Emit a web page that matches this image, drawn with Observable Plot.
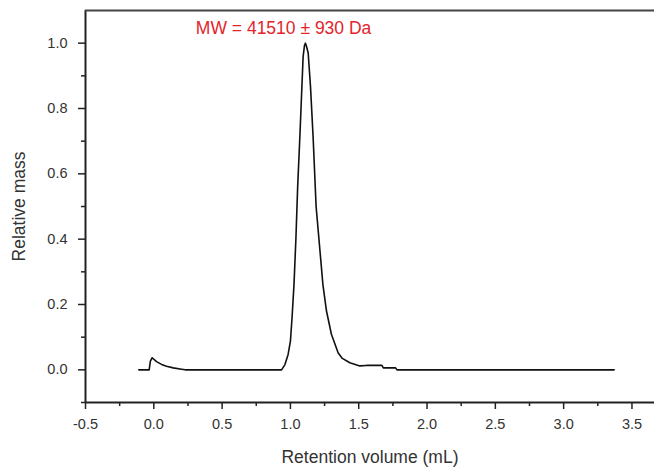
<!DOCTYPE html>
<html>
<head>
<meta charset="utf-8">
<script src="https://cdn.jsdelivr.net/npm/d3@7"></script>
<script src="https://cdn.jsdelivr.net/npm/@observablehq/plot@0.6"></script>
<style>
  html, body { margin: 0; padding: 0; background: #fff; }
  #chart svg { display: block; }
</style>
</head>
<body>
<div id="chart"></div>
<script>
// Retention volume (mL)
const volume = [-0.11, -0.034, -0.025, -0.012, 0.02, 0.057, 0.093, 0.142, 0.203, 0.23,
  0.5, 0.8, 0.935, 0.96, 0.983, 1.0, 1.012, 1.026, 1.04, 1.053, 1.069, 1.081, 1.093,
  1.103, 1.11, 1.118, 1.13, 1.147, 1.166, 1.188, 1.212, 1.238, 1.264, 1.3, 1.349,
  1.38, 1.435, 1.508, 1.557, 1.67, 1.68, 1.77, 1.78, 2.5, 3.37];
// Relative mass
const mass = [0, 0, 0.027, 0.037, 0.025, 0.0166, 0.011, 0.006, 0.002, 0,
  0, 0, 0, 0.016, 0.047, 0.088, 0.16, 0.26, 0.4, 0.56, 0.713, 0.836, 0.959,
  0.993, 1.0, 0.99, 0.97, 0.867, 0.713, 0.5, 0.385, 0.26, 0.18, 0.109, 0.052,
  0.035, 0.0215, 0.012, 0.0135, 0.0135, 0.006, 0.006, 0, 0, 0];

const xMajor = [-0.5, 0, 0.5, 1, 1.5, 2, 2.5, 3, 3.5];
const xTickLabels = ["-0.5", "0.0", "0.5", "1.0", "1.5", "2.0", "2.5", "3.0", "3.5"];
const xMinor = [-0.25, 0.25, 0.75, 1.25, 1.75, 2.25, 2.75, 3.25];
const yMajor = [0, 0.2, 0.4, 0.6, 0.8, 1.0];
const yTickLabels = ["0.0", "0.2", "0.4", "0.6", "0.8", "1.0"];
const yMinor = [-0.1, 0.1, 0.3, 0.5, 0.7, 0.9];

const annotation = [{x: 0.95, y: 1.045, text: "MW = 41510 \u00b1 930 Da"}];

const data = volume.map((v, i) => ({volume: v, mass: mass[i]}));

const axisColor = "#222";
const font = "'Liberation Sans', Arial, sans-serif";

const chart = Plot.plot({
  width: 654,
  height: 468,
  marginTop: 10,
  marginBottom: 66,
  marginLeft: 85,
  marginRight: 0,
  style: {fontFamily: font, background: "#fff"},
  x: {domain: [-0.5, 3.665], axis: null},
  y: {domain: [-0.1, 1.1], axis: null},
  marks: [
    Plot.axisX(xMajor, {tickSize: 7, tickPadding: 9, stroke: axisColor, strokeWidth: 1.5,
      tickFormat: d => xTickLabels[xMajor.indexOf(d)], fontSize: 14.5, fill: "#333", label: null}),
    Plot.axisX(xMinor, {tickSize: 4, stroke: axisColor, strokeWidth: 1.5, tickFormat: () => "", label: null}),
    Plot.axisY(yMajor, {tickSize: 7, tickPadding: 11, stroke: axisColor, strokeWidth: 1.5,
      tickFormat: d => yTickLabels[yMajor.indexOf(d)], fontSize: 14.5, fill: "#333", label: null}),
    Plot.axisY(yMinor, {tickSize: 4, stroke: axisColor, strokeWidth: 1.5, tickFormat: () => "", label: null}),
    Plot.ruleX([-0.5], {stroke: axisColor, strokeWidth: 2}),
    Plot.ruleY([-0.1], {stroke: axisColor, strokeWidth: 2}),
    Plot.ruleY([1.1], {stroke: "#444", strokeWidth: 2.2}),
    Plot.line(data, {x: "volume", y: "mass", stroke: "#111", strokeWidth: 1.6}),
    Plot.text(annotation, {x: "x", y: "y", text: "text", fill: "#e3242b", fontSize: 17.5, textAnchor: "middle", lineAnchor: "middle"}),
    Plot.text(["Retention volume (mL)"], {frameAnchor: "bottom", dy: 55, fontSize: 17.5, fill: "#333", textAnchor: "middle", lineAnchor: "middle"}),
    Plot.text(["Relative mass"], {frameAnchor: "left", dx: -66, rotate: -90, fontSize: 17.5, fill: "#333", textAnchor: "middle", lineAnchor: "middle"})
  ]
});
document.getElementById("chart").appendChild(chart);
</script>
</body>
</html>
